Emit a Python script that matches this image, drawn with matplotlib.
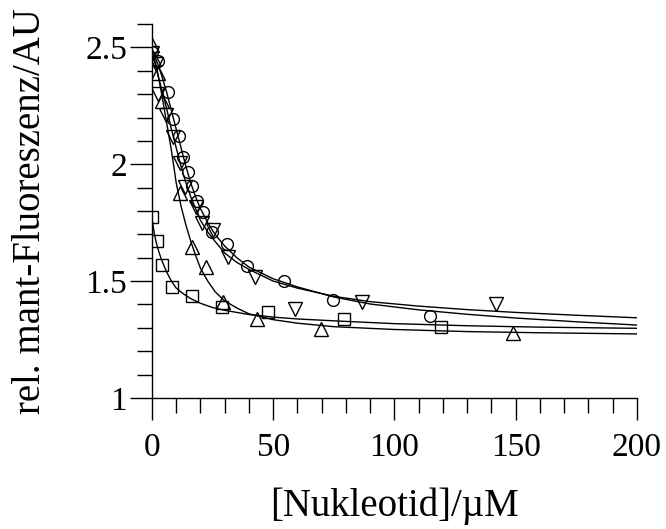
import matplotlib
matplotlib.use("Agg")
import matplotlib.pyplot as plt
from matplotlib.ticker import MultipleLocator, FixedLocator

plt.rcParams['font.family'] = ['Liberation Serif', 'DejaVu Serif']
plt.rcParams['mathtext.fontset'] = 'stix'

# ---- data points ----
circ_x = [0, 2.6, 6.4, 8.5, 11, 12.7, 14.8, 16.6, 18.6, 21.2, 24.6, 30.8, 39, 54.6, 74.8, 114.6]
circ_y = [2.48, 2.44, 2.31, 2.195, 2.12, 2.03, 1.965, 1.908, 1.843, 1.797, 1.711, 1.66, 1.566, 1.50, 1.419, 1.35]

dtri_x = [0, 1.6, 2.6, 5.8, 8.8, 11.5, 13.6, 18.2, 20.5, 25, 31.3, 42.5, 59, 86.7, 141.9]
dtri_y = [2.475, 2.43, 2.30, 2.21, 2.118, 2.004, 1.904, 1.815, 1.75, 1.718, 1.602, 1.516, 1.379, 1.409, 1.404]

utri_x = [0, 1, 2.6, 4.3, 11.5, 16.6, 22.1, 29.4, 43.2, 69.7, 148.7]
utri_y = [2.51, 2.45, 2.39, 2.27, 1.876, 1.647, 1.561, 1.409, 1.34, 1.297, 1.28]

sq_x = [0, 2, 4, 8.2, 16.5, 28.9, 48, 79, 119]
sq_y = [1.774, 1.671, 1.571, 1.474, 1.435, 1.391, 1.369, 1.336, 1.302]

# ---- fitted curves ----
circ_fit_x = [0, 2, 4, 6, 8, 10, 12, 14, 16, 18, 20, 23, 26, 30, 35, 40, 50, 60, 75, 90, 110, 130, 150, 175, 200]
circ_fit_y = [2.49, 2.44, 2.38, 2.31, 2.23, 2.15, 2.07, 1.99, 1.92, 1.86, 1.81, 1.75, 1.70, 1.65, 1.60, 1.56,
              1.51, 1.475, 1.432, 1.402, 1.377, 1.358, 1.342, 1.326, 1.312]

dtri_fit_x = [0, 2, 4, 6, 8, 10, 12, 14, 16, 18, 20, 23, 26, 30, 35, 40, 50, 60, 75, 90, 110, 130, 150, 175, 200]
dtri_fit_y = [2.48, 2.40, 2.32, 2.24, 2.15, 2.07, 1.99, 1.92, 1.86, 1.81, 1.76, 1.71, 1.67, 1.62, 1.58, 1.55,
              1.50, 1.47, 1.435, 1.412, 1.393, 1.378, 1.366, 1.354, 1.343]

utri_fit_x = [0, 2, 4, 6, 8, 10, 12, 14, 16, 18, 20, 23, 26, 30, 35, 40, 50, 60, 75, 100, 130, 160, 200]
utri_fit_y = [2.50, 2.41, 2.30, 2.18, 2.06, 1.92, 1.82, 1.74, 1.67, 1.61, 1.555, 1.50, 1.455, 1.415, 1.385,
              1.36, 1.335, 1.32, 1.305, 1.293, 1.284, 1.279, 1.274]

sq_fit_x = [0, 1, 2, 3, 4, 6, 8, 10, 13, 16, 20, 25, 30, 40, 50, 60, 77, 100, 130, 160, 200]
sq_fit_y = [1.77, 1.70, 1.655, 1.62, 1.59, 1.54, 1.50, 1.47, 1.445, 1.425, 1.405, 1.387, 1.375, 1.357, 1.346,
            1.338, 1.329, 1.318, 1.309, 1.303, 1.298]

x_ticks = [0, 50, 100, 150, 200]
x_tick_labels = ["0", "50", "100", "150", "200"]
y_ticks = [1, 1.5, 2, 2.5]
y_tick_labels = ["1", "1.5", "2", "2.5"]

fig = plt.figure(figsize=(6.66, 5.29), dpi=100)
ax = fig.add_axes([0.2282, 0.2477, 0.7282, 0.7069])

lw = 1.0
for fx, fy in [(circ_fit_x, circ_fit_y), (dtri_fit_x, dtri_fit_y), (utri_fit_x, utri_fit_y), (sq_fit_x, sq_fit_y)]:
    ax.plot(fx, fy, color='black', lw=lw, zorder=2)

mk = dict(linestyle='none', markerfacecolor='none', markeredgecolor='black', markeredgewidth=1.0, zorder=3)
ax.plot(circ_x, circ_y, marker='o', markersize=8.5, **mk)
ax.plot(dtri_x, dtri_y, marker='v', markersize=9.5, **mk)
ax.plot(utri_x, utri_y, marker='^', markersize=9.5, **mk)
ax.plot(sq_x, sq_y, marker='s', markersize=8.5, **mk)

ax.set_xlim(0, 200)
ax.set_ylim(1, 2.6)
for s in ['top', 'right']:
    ax.spines[s].set_visible(False)
for s in ['left', 'bottom']:
    ax.spines[s].set_linewidth(1.0)

ax.xaxis.set_major_locator(FixedLocator(x_ticks))
ax.set_xticklabels(x_tick_labels)
ax.xaxis.set_minor_locator(MultipleLocator(10))
ax.yaxis.set_major_locator(FixedLocator(y_ticks))
ax.set_yticklabels(y_tick_labels)
ax.yaxis.set_minor_locator(MultipleLocator(0.1))

ax.tick_params(which='major', direction='out', length=16, width=1.0, labelsize=24, color='black')
ax.tick_params(which='minor', direction='out', length=11, width=1.0, color='black')
ax.tick_params(axis='x', which='major', pad=9)
ax.tick_params(axis='y', which='major', pad=2)

ax.set_xlabel("[Nukleotid]/µM", fontsize=28)
ax.set_ylabel("rel. mant-Fluoreszenz/AU", fontsize=28)
ax.xaxis.set_label_coords(0.5, -0.24)
ax.yaxis.set_label_coords(-0.212, 0.5)

fig.savefig("out.png", dpi=100)
